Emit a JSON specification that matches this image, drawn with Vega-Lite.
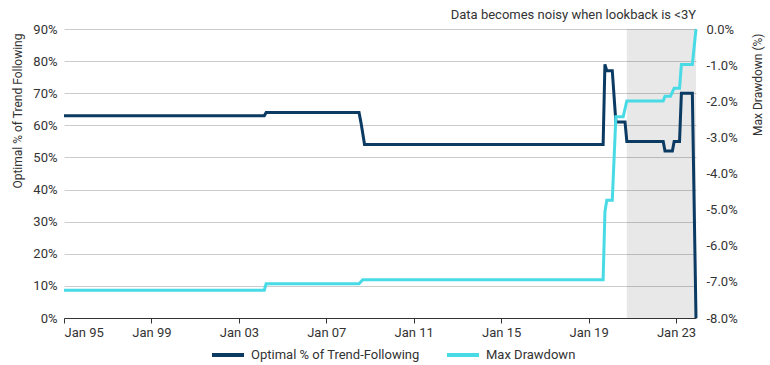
{
  "$schema": "https://vega.github.io/schema/vega-lite/v6.json",
  "width": 632,
  "height": 289,
  "autosize": {"type": "none"},
  "padding": {"left": 64, "top": 29, "right": 74, "bottom": 47},
  "title": {
    "text": "Data becomes noisy when lookback is <3Y",
    "anchor": "end",
    "frame": "group",
    "fontSize": 13,
    "fontWeight": "normal",
    "color": "#333333",
    "offset": 1
  },
  "datasets": {
    "shade": [{"start": "2020-10-01", "end": "2023-12-01"}],
    "opt": [
      {"date": "1995-01-01", "value": 0.63, "series": "Optimal % of Trend-Following"},
      {"date": "2004-03-01", "value": 0.63, "series": "Optimal % of Trend-Following"},
      {"date": "2004-04-01", "value": 0.64, "series": "Optimal % of Trend-Following"},
      {"date": "2008-07-01", "value": 0.64, "series": "Optimal % of Trend-Following"},
      {"date": "2008-08-01", "value": 0.61, "series": "Optimal % of Trend-Following"},
      {"date": "2008-09-01", "value": 0.575, "series": "Optimal % of Trend-Following"},
      {"date": "2008-10-01", "value": 0.54, "series": "Optimal % of Trend-Following"},
      {"date": "2019-09-01", "value": 0.54, "series": "Optimal % of Trend-Following"},
      {"date": "2019-10-01", "value": 0.79, "series": "Optimal % of Trend-Following"},
      {"date": "2019-11-01", "value": 0.77, "series": "Optimal % of Trend-Following"},
      {"date": "2020-02-01", "value": 0.77, "series": "Optimal % of Trend-Following"},
      {"date": "2020-04-01", "value": 0.61, "series": "Optimal % of Trend-Following"},
      {"date": "2020-09-01", "value": 0.61, "series": "Optimal % of Trend-Following"},
      {"date": "2020-10-01", "value": 0.55, "series": "Optimal % of Trend-Following"},
      {"date": "2022-06-01", "value": 0.55, "series": "Optimal % of Trend-Following"},
      {"date": "2022-07-01", "value": 0.52, "series": "Optimal % of Trend-Following"},
      {"date": "2022-11-01", "value": 0.52, "series": "Optimal % of Trend-Following"},
      {"date": "2022-12-01", "value": 0.55, "series": "Optimal % of Trend-Following"},
      {"date": "2023-03-01", "value": 0.55, "series": "Optimal % of Trend-Following"},
      {"date": "2023-04-01", "value": 0.70, "series": "Optimal % of Trend-Following"},
      {"date": "2023-10-01", "value": 0.70, "series": "Optimal % of Trend-Following"},
      {"date": "2023-12-01", "value": 0.0, "series": "Optimal % of Trend-Following"}
    ],
    "mdd": [
      {"date": "1995-01-01", "value": -0.0723, "series": "Max Drawdown"},
      {"date": "2004-03-01", "value": -0.0723, "series": "Max Drawdown"},
      {"date": "2004-04-01", "value": -0.0705, "series": "Max Drawdown"},
      {"date": "2008-07-01", "value": -0.0705, "series": "Max Drawdown"},
      {"date": "2008-09-01", "value": -0.0694, "series": "Max Drawdown"},
      {"date": "2019-09-01", "value": -0.0694, "series": "Max Drawdown"},
      {"date": "2019-10-01", "value": -0.0506, "series": "Max Drawdown"},
      {"date": "2019-11-01", "value": -0.0474, "series": "Max Drawdown"},
      {"date": "2020-02-01", "value": -0.0474, "series": "Max Drawdown"},
      {"date": "2020-04-01", "value": -0.0243, "series": "Max Drawdown"},
      {"date": "2020-08-01", "value": -0.0243, "series": "Max Drawdown"},
      {"date": "2020-10-01", "value": -0.0199, "series": "Max Drawdown"},
      {"date": "2022-06-01", "value": -0.0199, "series": "Max Drawdown"},
      {"date": "2022-07-01", "value": -0.0186, "series": "Max Drawdown"},
      {"date": "2022-10-01", "value": -0.0186, "series": "Max Drawdown"},
      {"date": "2022-12-01", "value": -0.0164, "series": "Max Drawdown"},
      {"date": "2023-03-01", "value": -0.0164, "series": "Max Drawdown"},
      {"date": "2023-04-01", "value": -0.0098, "series": "Max Drawdown"},
      {"date": "2023-10-01", "value": -0.0098, "series": "Max Drawdown"},
      {"date": "2023-12-01", "value": 0.0, "series": "Max Drawdown"}
    ]
  },
  "layer": [
    {
      "data": {"name": "shade"},
      "mark": {"type": "rect", "fill": "#000000", "opacity": 0.09},
      "encoding": {
        "x": {"field": "start", "type": "temporal"},
        "x2": {"field": "end"}
      }
    },
    {
      "data": {"name": "opt"},
      "mark": {"type": "line", "strokeWidth": 3},
      "encoding": {
        "x": {
          "field": "date",
          "type": "temporal",
          "scale": {
            "type": "utc",
            "domain": [
              {"year": 1995, "month": 1, "date": 1, "utc": true},
              {"year": 2023, "month": 12, "date": 1, "utc": true}
            ]
          },
          "axis": {
            "title": null,
            "values": [
              {"year": 1995, "month": 1, "date": 1, "utc": true},
              {"year": 1999, "month": 1, "date": 1, "utc": true},
              {"year": 2003, "month": 1, "date": 1, "utc": true},
              {"year": 2007, "month": 1, "date": 1, "utc": true},
              {"year": 2011, "month": 1, "date": 1, "utc": true},
              {"year": 2015, "month": 1, "date": 1, "utc": true},
              {"year": 2019, "month": 1, "date": 1, "utc": true},
              {"year": 2023, "month": 1, "date": 1, "utc": true}
            ],
            "labelExpr": "utcFormat(datum.value, '%b %y')",
            "grid": false,
            "domainColor": "#333333",
            "tickColor": "#333333",
            "tickSize": 5,
            "labelPadding": 3,
            "labelFontSize": 13,
            "labelColor": "#333333"
          }
        },
        "y": {
          "field": "value",
          "type": "quantitative",
          "scale": {"domain": [0, 0.9]},
          "axis": {
            "orient": "left",
            "values": [0, 0.1, 0.2, 0.3, 0.4, 0.5, 0.6, 0.7, 0.8, 0.9],
            "format": ".0%",
            "grid": true,
            "gridColor": "#cccccc",
            "ticks": false,
            "domain": false,
            "labelPadding": 7,
            "labelFontSize": 13,
            "labelColor": "#333333",
            "title": "Optimal % of Trend Following",
            "titleFontSize": 12,
            "titleFontWeight": "normal",
            "titleColor": "#333333",
            "titleAngle": 270,
            "titleX": -47,
            "titleY": 4,
            "titleAlign": "right",
            "titleBaseline": "middle"
          }
        },
        "color": {
          "field": "series",
          "type": "nominal",
          "scale": {
            "domain": ["Optimal % of Trend-Following", "Max Drawdown"],
            "range": ["#0b3a63", "#48dbe6"]
          },
          "legend": {
            "orient": "none",
            "legendX": 146,
            "legendY": 308,
            "direction": "horizontal",
            "title": null,
            "symbolType": "stroke",
            "symbolSize": 1024,
            "symbolStrokeWidth": 4,
            "labelFontSize": 13,
            "labelColor": "#333333",
            "labelOffset": 5,
            "labelLimit": 300,
            "columnPadding": 19
          }
        }
      }
    },
    {
      "data": {"name": "mdd"},
      "mark": {"type": "line", "strokeWidth": 3},
      "encoding": {
        "x": {"field": "date", "type": "temporal"},
        "y": {
          "field": "value",
          "type": "quantitative",
          "scale": {"domain": [-0.08, 0]},
          "axis": {
            "orient": "right",
            "values": [-0.08, -0.07, -0.06, -0.05, -0.04, -0.03, -0.02, -0.01, 0],
            "format": ".1%",
            "grid": false,
            "ticks": false,
            "domain": false,
            "labelPadding": 10,
            "labelFontSize": 13,
            "labelColor": "#333333",
            "title": "Max Drawdown (%)",
            "titleFontSize": 12,
            "titleFontWeight": "normal",
            "titleColor": "#333333",
            "titleAngle": 270,
            "titleX": 61,
            "titleY": 4,
            "titleAlign": "right",
            "titleBaseline": "middle"
          }
        },
        "color": {"field": "series", "type": "nominal"}
      }
    }
  ],
  "resolve": {"scale": {"y": "independent"}},
  "config": {
    "font": "Roboto",
    "view": {"stroke": null},
    "locale": {
      "number": {
        "decimal": ".",
        "thousands": ",",
        "grouping": [3],
        "currency": ["$", ""],
        "minus": "-"
      }
    }
  }
}
